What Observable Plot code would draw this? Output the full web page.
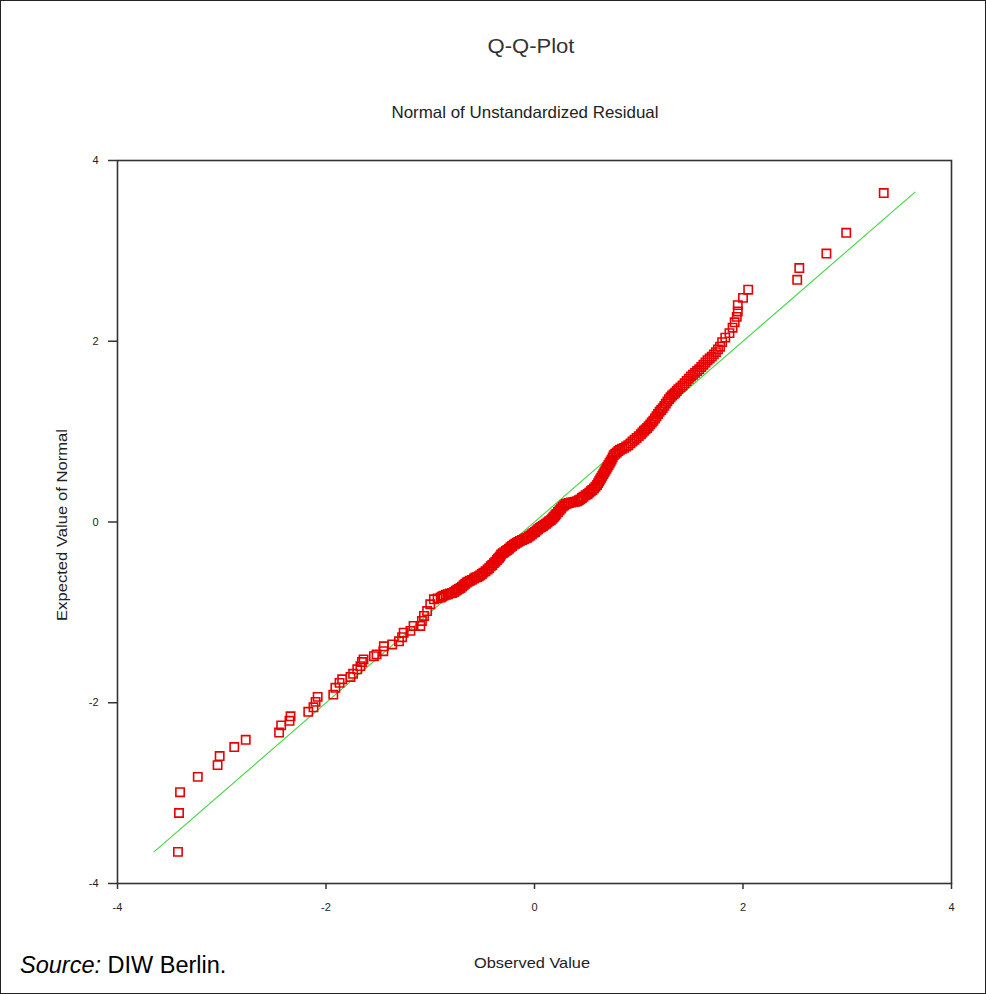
<!DOCTYPE html>
<html><head><meta charset="utf-8">
<script src="https://cdn.jsdelivr.net/npm/d3@7"></script>
<script src="https://cdn.jsdelivr.net/npm/@observablehq/plot@0.6"></script>
<style>
body{margin:0;background:#fff;}
#chart{position:relative;width:986px;height:994px;}
</style></head><body><div id="chart"></div>
<script>
// Observed (x) and Expected Normal (y) values
const observed = [
-3.42,-3.41,-3.40,-3.23,-3.04,-3.02,-2.88,-2.77,-2.45,-2.43,-2.35,-2.34,-2.17,-2.12,-2.10,-2.08,
-1.93,-1.91,-1.87,-1.845,-1.765,-1.74,-1.70,-1.67,-1.655,-1.64,-1.54,-1.515,-1.45,-1.445,-1.365,-1.30,
-1.27,-1.255,-1.19,-1.16,-1.095,-1.08,-1.06,-1.03,-1.00,-0.965,
-0.93,-0.90,-0.885,-0.87,-0.85,-0.83,-0.81,-0.79,-0.77,-0.755,
-0.74,-0.725,-0.71,-0.695,-0.68,-0.665,-0.65,-0.635,-0.62,-0.60,
-0.58,-0.565,-0.55,-0.535,-0.52,-0.505,-0.49,-0.47,-0.45,-0.435,
-0.42,-0.405,-0.39,-0.375,-0.36,-0.35,-0.34,-0.33,-0.32,-0.305,
-0.29,-0.275,-0.26,-0.245,-0.23,-0.215,-0.20,-0.185,-0.17,-0.155,
-0.14,-0.12,-0.10,-0.085,-0.07,-0.055,-0.04,-0.025,-0.01,0.005,
0.02,0.035,0.05,0.065,0.08,0.095,0.11,0.125,0.14,0.155,
0.17,0.18,0.19,0.20,0.21,0.225,0.24,0.255,0.27,0.285,
0.30,0.315,0.33,0.35,0.37,0.39,0.41,0.425,0.44,0.455,
0.47,0.49,0.51,0.525,0.54,0.555,0.57,0.585,0.60,0.61,
0.62,0.63,0.64,0.65,0.66,0.67,0.68,0.69,0.70,0.71,
0.72,0.73,0.74,0.75,0.76,0.775,0.79,0.805,0.82,0.84,
0.86,0.88,0.90,0.92,0.94,0.96,0.98,1.00,1.02,1.035,
1.05,1.065,1.08,1.095,1.11,1.125,1.14,1.155,1.17,1.185,
1.20,1.215,1.23,1.245,1.26,1.275,1.29,1.305,1.32,1.335,
1.35,1.365,1.38,1.40,1.42,1.44,1.46,1.48,1.50,1.52,
1.54,1.56,1.58,1.60,1.62,1.64,1.66,1.68,1.70,1.72,
1.74,1.76,1.78,1.80,1.83,1.87,1.90,1.92,1.94,1.95,
1.95,2.00,2.05,2.52,2.54,2.80,2.99,3.35
];
const expected = [
-3.65,-3.22,-2.99,-2.82,-2.69,-2.59,-2.49,-2.41,-2.33,-2.25,-2.20,-2.15,-2.10,-2.05,-1.99,-1.935,
-1.91,-1.835,-1.78,-1.74,-1.715,-1.68,-1.63,-1.595,-1.55,-1.52,-1.485,-1.465,-1.43,-1.375,-1.355,-1.32,
-1.275,-1.225,-1.205,-1.15,-1.15,-1.095,-1.04,-0.985,-0.91,-0.855,
-0.845,-0.835,-0.825,-0.815,-0.805,-0.80,-0.79,-0.785,-0.775,-0.76,
-0.75,-0.74,-0.73,-0.715,-0.70,-0.685,-0.67,-0.66,-0.65,-0.64,
-0.625,-0.615,-0.61,-0.60,-0.59,-0.575,-0.56,-0.545,-0.525,-0.51,
-0.49,-0.475,-0.455,-0.44,-0.42,-0.405,-0.395,-0.38,-0.36,-0.345,
-0.335,-0.32,-0.31,-0.295,-0.28,-0.265,-0.25,-0.24,-0.23,-0.22,
-0.21,-0.20,-0.19,-0.18,-0.175,-0.16,-0.15,-0.135,-0.12,-0.11,
-0.095,-0.08,-0.065,-0.055,-0.045,-0.03,-0.02,-0.005,0.01,0.02,
0.035,0.05,0.06,0.075,0.09,0.11,0.13,0.15,0.17,0.185,
0.20,0.205,0.21,0.215,0.22,0.225,0.23,0.24,0.25,0.265,
0.28,0.295,0.31,0.325,0.34,0.355,0.37,0.39,0.41,0.43,
0.45,0.47,0.49,0.51,0.53,0.55,0.57,0.59,0.61,0.63,
0.65,0.67,0.69,0.715,0.74,0.755,0.77,0.785,0.80,0.81,
0.82,0.835,0.85,0.87,0.89,0.91,0.93,0.95,0.97,0.99,
1.01,1.025,1.04,1.06,1.08,1.10,1.12,1.145,1.17,1.195,
1.22,1.24,1.26,1.285,1.31,1.335,1.36,1.38,1.40,1.415,
1.43,1.45,1.47,1.49,1.51,1.535,1.56,1.585,1.61,1.63,
1.65,1.67,1.69,1.715,1.74,1.765,1.79,1.81,1.83,1.855,
1.88,1.91,1.94,1.99,2.04,2.09,2.15,2.21,2.27,2.33,
2.40,2.48,2.57,2.68,2.81,2.97,3.20,3.64
];
const xTicks = [-4, -2, 0, 2, 4];
const yTicks = [-4, -2, 0, 2, 4];
const refLine = [-3.65, 3.65];
const titleText = "Q-Q-Plot";
const subtitleText = "Normal of Unstandardized Residual";
const xLabel = "Observed Value";
const yLabel = "Expected Value of Normal";

const points = observed.map((x, i) => ({x, y: expected[i]}));
const lineData = refLine.map(v => ({x: v, y: v}));

const font = "'Liberation Sans', Arial, sans-serif";
const plot = Plot.plot({
  width: 986, height: 994,
  marginLeft: 117, marginRight: 35, marginTop: 160, marginBottom: 111,
  x: {domain: [-4, 4]},
  y: {domain: [-4, 4]},
  style: {fontFamily: font, fontSize: "11px", color: "#222", background: "#fff", overflow: "visible"},
  marks: [
    Plot.frame({stroke: "#333", strokeWidth: 1.6}),
    Plot.axisX({ticks: xTicks, tickSize: 6, tickPadding: 14, label: null, tickFormat: d => String(d), stroke: "#333", strokeWidth: 1.5}),
    Plot.axisY({ticks: yTicks, tickSize: 9, tickPadding: 10, label: null, tickFormat: d => String(d), stroke: "#333", strokeWidth: 1.5}),
    Plot.line(lineData, {x: "x", y: "y", stroke: "#40d840", strokeWidth: 1.1}),
    Plot.dot(points, {x: "x", y: "y", symbol: "square", r: 4.7, stroke: "#e80000", strokeWidth: 1.6, fill: "none"})
  ]
});

const svg = d3.select(plot);
svg.append("rect").attr("x", 0.5).attr("y", 0.5).attr("width", 985).attr("height", 993)
  .attr("fill", "none").attr("stroke", "#222").attr("stroke-width", 1);
svg.append("text").attr("x", 531).attr("y", 53).attr("text-anchor", "middle")
  .attr("font-family", font).attr("font-size", 21).attr("fill", "#333")
  .attr("textLength", 87).attr("lengthAdjust", "spacingAndGlyphs").text(titleText);
svg.append("text").attr("x", 525).attr("y", 118).attr("text-anchor", "middle")
  .attr("font-family", font).attr("font-size", 16.5).attr("fill", "#222")
  .attr("textLength", 267).attr("lengthAdjust", "spacingAndGlyphs").text(subtitleText);
svg.append("text").attr("transform", "translate(67,525) rotate(-90)").attr("text-anchor", "middle")
  .attr("font-family", font).attr("font-size", 15).attr("fill", "#222")
  .attr("textLength", 192).attr("lengthAdjust", "spacingAndGlyphs").text(yLabel);
svg.append("text").attr("x", 532).attr("y", 968).attr("text-anchor", "middle")
  .attr("font-family", font).attr("font-size", 15).attr("fill", "#222")
  .attr("textLength", 116).attr("lengthAdjust", "spacingAndGlyphs").text(xLabel);
const src = svg.append("text").attr("x", 20).attr("y", 973).attr("text-anchor", "start")
  .attr("font-family", font).attr("font-size", 23.5).attr("fill", "#000");
src.append("tspan").attr("font-style", "italic").text("Source:");
src.append("tspan").text(" DIW Berlin.");

document.getElementById("chart").appendChild(plot);
</script>
</body></html>
